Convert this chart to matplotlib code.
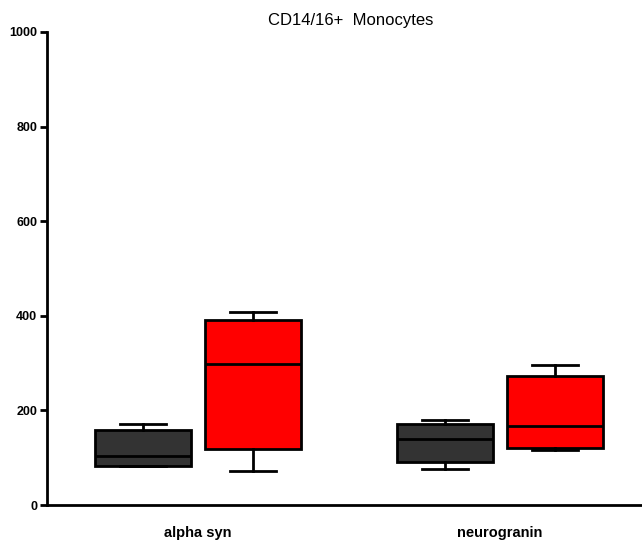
import matplotlib.pyplot as plt

plt.rcParams['font.family'] = ['Liberation Sans', 'DejaVu Sans']

groups = ['alpha syn', 'neurogranin']
# five-number summaries per group: min, q1, median, q3, max
dark_min = [82, 77]
dark_q1 = [83, 90]
dark_med = [104, 139]
dark_q3 = [159, 171]
dark_max = [172, 180]
red_min = [72, 116]
red_q1 = [118, 120]
red_med = [298, 167]
red_q3 = [391, 273]
red_max = [407, 297]
yticks = [0, 200, 400, 600, 800, 1000]


def make_stats(mins, q1s, meds, q3s, maxs):
    out = []
    for a, b, c, d, e in zip(mins, q1s, meds, q3s, maxs):
        out.append({'whislo': a, 'q1': b, 'med': c, 'q3': d, 'whishi': e, 'fliers': []})
    return out


fig = plt.figure(figsize=(6.42, 5.43), dpi=100)
ax = fig.add_axes([47 / 642, 1 - 505 / 543, 595 / 642, (505 - 32) / 543])

centers = [1, 3]
off = 0.364
w = 0.64
common = dict(widths=w, patch_artist=True, showfliers=False,
              whiskerprops=dict(color='black', linewidth=2),
              capprops=dict(color='black', linewidth=2),
              medianprops=dict(color='black', linewidth=2),
              manage_ticks=False)
b1 = ax.bxp(make_stats(dark_min, dark_q1, dark_med, dark_q3, dark_max),
            positions=[c - off for c in centers],
            boxprops=dict(facecolor='#333333', edgecolor='black', linewidth=2),
            capwidths=0.3, **common)
b2 = ax.bxp(make_stats(red_min, red_q1, red_med, red_q3, red_max),
            positions=[c + off for c in centers],
            boxprops=dict(facecolor='#ff0000', edgecolor='black', linewidth=2),
            capwidths=0.3, **common)

ax.set_xlim(0, 595 / 151)
ax.set_ylim(0, 1000)
ax.set_yticks(yticks)
ax.set_yticklabels([str(t) for t in yticks], fontsize=9, fontweight='bold')
ax.set_xticks(centers)
ax.set_xticklabels(groups, fontsize=10.5, fontweight='bold')
ax.tick_params(axis='x', length=0, pad=15)
ax.tick_params(axis='y', length=5, width=2, pad=2)
for s in ['top', 'right']:
    ax.spines[s].set_visible(False)
for s in ['left', 'bottom']:
    ax.spines[s].set_linewidth(2)

fig.text(351 / 642, 1 - 20 / 543, 'CD14/16+  Monocytes', ha='center', va='center', fontsize=12)

fig.savefig('out.png', dpi=100)
